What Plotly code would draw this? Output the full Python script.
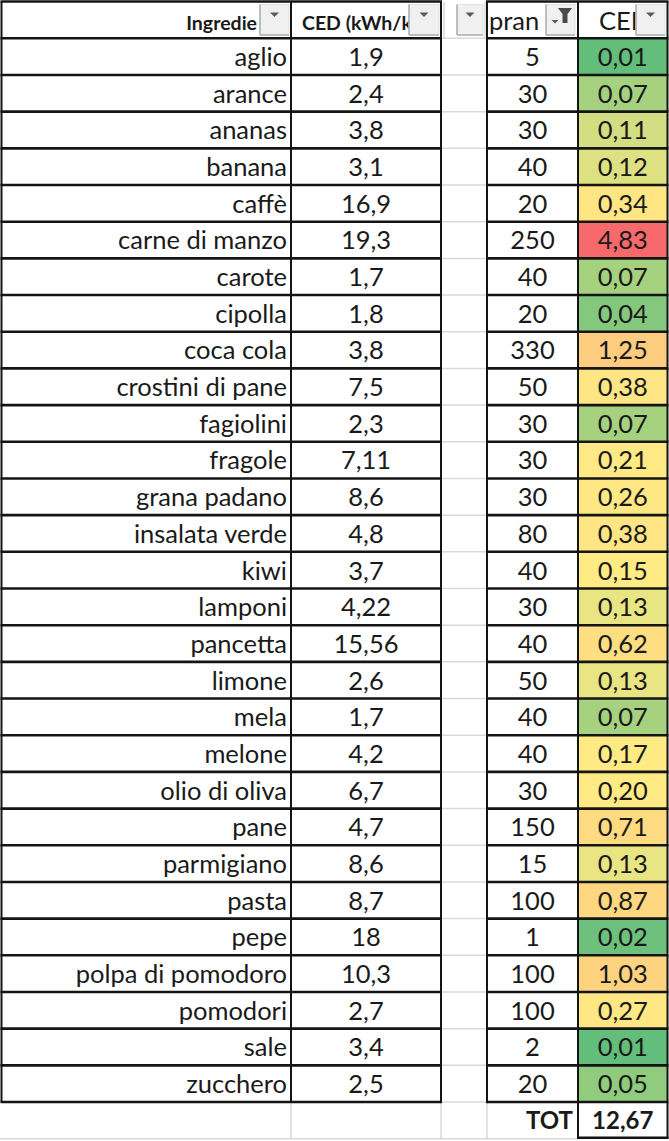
import statistics
import plotly.graph_objects as go

# ---------------- data ----------------
ingredienti = ["aglio", "arance", "ananas", "banana", "caffè", "carne di manzo",
               "carote", "cipolla", "coca cola", "crostini di pane", "fagiolini",
               "fragole", "grana padano", "insalata verde", "kiwi", "lamponi",
               "pancetta", "limone", "mela", "melone", "olio di oliva", "pane",
               "parmigiano", "pasta", "pepe", "polpa di pomodoro", "pomodori",
               "sale", "zucchero"]
ced_kwh_kg = [1.9, 2.4, 3.8, 3.1, 16.9, 19.3, 1.7, 1.8, 3.8, 7.5, 2.3, 7.11, 8.6,
              4.8, 3.7, 4.22, 15.56, 2.6, 1.7, 4.2, 6.7, 4.7, 8.6, 8.7, 18, 10.3,
              2.7, 3.4, 2.5]
pranzo_g = [5, 30, 30, 40, 20, 250, 40, 20, 330, 50, 30, 30, 30, 80, 40, 30, 40,
            50, 40, 40, 30, 150, 15, 100, 1, 100, 100, 2, 20]
ced_pranzo = [0.01, 0.07, 0.11, 0.12, 0.34, 4.83, 0.07, 0.04, 1.25, 0.38, 0.07,
              0.21, 0.26, 0.38, 0.15, 0.13, 0.62, 0.13, 0.07, 0.17, 0.20, 0.71,
              0.13, 0.87, 0.02, 1.03, 0.27, 0.01, 0.05]
intestazioni = ["Ingredie", "CED (kWh/k", "", "pran", "CED"]
totale_label = "TOT"
totale = 12.67

# ---------------- layout constants ----------------
W, H = 669, 1141
COL_X = [1.5, 291, 441, 487, 578, 667.5]
TOP_Y = 1.5
HEADER_BOTTOM = 38.3
ROW_H = 36.68
FONT = "Lato"
BODY_SIZE = 25.5
TXT = "#1a1a1a"
GRID = "#d9d9d9"
BLACK = "#141414"

n = len(ingredienti)
row_edges = [HEADER_BOTTOM + i * ROW_H for i in range(n + 1)]
row_mid = [(row_edges[i] + row_edges[i + 1]) / 2 + 3 for i in range(n)]
tot_y0 = row_edges[-1]
tot_y1 = tot_y0 + ROW_H
tot_mid = (tot_y0 + tot_y1) / 2 + 3
head_mid = (TOP_Y + HEADER_BOTTOM) / 2 + 5


def fmt_num(v):
    return f"{v:g}".replace(".", ",")


def fmt2(v):
    return f"{v:.2f}".replace(".", ",")


fig = go.Figure()

# colour scale (Excel 3-colour scale: min green, median yellow, max red)
vmin, vmax = min(ced_pranzo), max(ced_pranzo)
vmed = statistics.median(ced_pranzo)
mid = (vmed - vmin) / (vmax - vmin)
fig.add_trace(go.Heatmap(
    z=[[v] for v in ced_pranzo],
    x=[COL_X[4], COL_X[5]],
    y=row_edges,
    zmin=vmin, zmax=vmax,
    colorscale=[[0, "#63BE7B"], [mid, "#FFEB84"], [1, "#F8696B"]],
    showscale=False, hoverinfo="skip",
))

body_font = dict(family=FONT, size=BODY_SIZE, color=TXT)
# body text
fig.add_trace(go.Scatter(
    x=[COL_X[1] - 4] * n, y=row_mid, text=ingredienti, mode="text",
    textposition="middle left", textfont=body_font, hoverinfo="skip"))
fig.add_trace(go.Scatter(
    x=[(COL_X[1] + COL_X[2]) / 2] * n, y=row_mid,
    text=[fmt_num(v) for v in ced_kwh_kg], mode="text",
    textposition="middle center", textfont=body_font, hoverinfo="skip"))
fig.add_trace(go.Scatter(
    x=[(COL_X[3] + COL_X[4]) / 2] * n, y=row_mid,
    text=[fmt_num(v) for v in pranzo_g], mode="text",
    textposition="middle center", textfont=body_font, hoverinfo="skip"))
fig.add_trace(go.Scatter(
    x=[(COL_X[4] + COL_X[5]) / 2] * n, y=row_mid,
    text=[fmt2(v) for v in ced_pranzo], mode="text",
    textposition="middle center", textfont=body_font, hoverinfo="skip"))

# header text
fig.add_trace(go.Scatter(
    x=[257, 302], y=[head_mid, head_mid], text=intestazioni[:2], mode="text",
    textposition=["middle left", "middle right"],
    textfont=dict(family=FONT, size=19.5, color=TXT, weight="bold"),
    hoverinfo="skip"))
fig.add_trace(go.Scatter(
    x=[489, 599], y=[head_mid - 1, head_mid - 1], text=[intestazioni[3], intestazioni[4]],
    mode="text", textposition="middle right",
    textfont=body_font, hoverinfo="skip"))

# total row
fig.add_trace(go.Scatter(
    x=[COL_X[4] - 5, (COL_X[4] + COL_X[5]) / 2], y=[tot_mid, tot_mid],
    text=[totale_label, fmt2(totale)], mode="text",
    textposition=["middle left", "middle center"],
    textfont=dict(family=FONT, size=24, color=TXT, weight="bold"),
    hoverinfo="skip"))

shapes = []


def line(x0, y0, x1, y1, color, width):
    shapes.append(dict(type="line", xref="x", yref="y", x0=x0, y0=y0, x1=x1,
                       y1=y1, line=dict(color=color, width=width), layer="above"))


# light gridlines
for y in row_edges:
    line(COL_X[2], y, COL_X[3], y, GRID, 1.5)
for x in (COL_X[1], COL_X[2], COL_X[3]):
    line(x, tot_y0, x, tot_y1, GRID, 1.5)
line(0, tot_y1, COL_X[4], tot_y1, GRID, 1.5)
line(COL_X[2] + 3, TOP_Y, COL_X[2] + 3, HEADER_BOTTOM, GRID, 1.5)
line(COL_X[3] - 2, TOP_Y, COL_X[3] - 2, HEADER_BOTTOM, GRID, 1.5)

# black borders
for (a, b) in ((0, 2), (3, 5)):
    for y in [TOP_Y] + row_edges:
        line(COL_X[a] - 1, y, COL_X[b] + 1, y, BLACK, 2.6)
    for x in COL_X[a:b + 1]:
        line(x, TOP_Y, x, row_edges[-1], BLACK, 2)
line(COL_X[4], tot_y0, COL_X[4], tot_y1, BLACK, 2)
line(COL_X[5], tot_y0, COL_X[5], tot_y1, BLACK, 2)
line(COL_X[4] - 1, tot_y1 - 1, COL_X[5] + 1, tot_y1 - 1, BLACK, 2.6)

# filter buttons
BUTTONS = [(260, 289), (409, 439), (457, 483), (546, 575), (636, 665)]
BY0, BY1 = 4.5, 35
for i, (x0, x1) in enumerate(BUTTONS):
    shapes.append(dict(type="rect", xref="x", yref="y", x0=x0, x1=x1, y0=BY0,
                       y1=BY1, fillcolor="#f0f0f0", line=dict(color="#e2e2e2", width=1),
                       layer="above"))
    line(x0, BY0, x0, BY1, "#a9adb5", 1.5)
    line(x0, BY1, x1, BY1, "#a9adb5", 1.5)
    if i == 3:
        # small arrow + funnel for the active filter
        tx, ty, hw = x0 + 9, 20, 3.5
        fx = x1 - 3
        shapes.append(dict(type="path", xref="x", yref="y",
                           path=f"M {fx-14},8 L {fx},8 L {fx-4.5},14 L {fx-4.5},23 L {fx-9.5},23 L {fx-9.5},14 Z",
                           fillcolor="#4a4a4a", line=dict(width=0), layer="above"))
    else:
        tx, ty, hw = (x0 + x1) / 2, 12.5, 4.5
    shapes.append(dict(type="path", xref="x", yref="y",
                       path=f"M {tx-hw},{ty} L {tx+hw},{ty} L {tx},{ty+hw} Z",
                       fillcolor="#5a5a5a", line=dict(width=0), layer="above"))

fig.update_layout(
    shapes=shapes,
    width=W, height=H, margin=dict(l=0, r=0, t=0, b=0),
    paper_bgcolor="white", plot_bgcolor="white", showlegend=False,
    hovermode=False,
    xaxis=dict(range=[0, W], visible=False, fixedrange=True),
    yaxis=dict(range=[H, 0], visible=False, fixedrange=True),
)

fig.write_html("out.html", config={"displayModeBar": False},
               post_script="document.body.style.margin='0';document.body.style.overflow='hidden';")
